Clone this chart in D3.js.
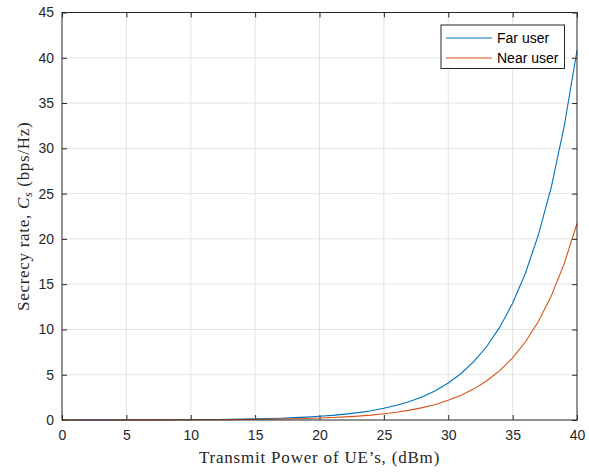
<!DOCTYPE html>
<html>
<head>
<meta charset="utf-8">
<script src="https://cdn.jsdelivr.net/npm/d3@7"></script>
<style>
  body { margin: 0; background: #fff; }
  svg { display: block; }
</style>
</head>
<body>
<script>
'use strict';
// transmit power, dBm
const power = d3.range(0, 41);
// values
const farUser = [0, 0, 0.01, 0.01, 0.01, 0.01, 0.02, 0.02, 0.03, 0.03,
  0.04, 0.05, 0.06, 0.08, 0.10, 0.13, 0.16, 0.20, 0.26, 0.32,
  0.41, 0.51, 0.65, 0.81, 1.02, 1.29, 1.62, 2.04, 2.57, 3.24,
  4.08, 5.14, 6.47, 8.14, 10.25, 12.9, 16.24, 20.45, 25.7, 32.4, 40.8];
const nearUser = [0, 0, 0, 0, 0, 0.01, 0.01, 0.01, 0.01, 0.02,
  0.02, 0.03, 0.03, 0.04, 0.05, 0.07, 0.09, 0.11, 0.14, 0.17,
  0.22, 0.27, 0.34, 0.43, 0.54, 0.69, 0.86, 1.09, 1.37, 1.72,
  2.17, 2.73, 3.44, 4.33, 5.45, 6.86, 8.64, 10.88, 13.69, 17.24, 21.7];
const xTicks = [0, 5, 10, 15, 20, 25, 30, 35, 40];
const yTicks = [0, 5, 10, 15, 20, 25, 30, 35, 40, 45];
const seriesNames = ["Far user", "Near user"];
const seriesColors = ["#0072BD", "#D95319"];

const width = 589, height = 473;
const margin = { left: 62, right: 12, top: 12.5, bottom: 53 };

const svg = d3.select('body').append('svg')
  .attr('width', width)
  .attr('height', height);

const x = d3.scaleLinear().domain([0, 40]).range([margin.left, width - margin.right]);
const y = d3.scaleLinear().domain([0, 45]).range([height - margin.bottom, margin.top]);

// grid
svg.append('g').selectAll('line').data(xTicks.slice(1, -1)).enter().append('line')
  .attr('x1', d => x(d)).attr('x2', d => x(d))
  .attr('y1', y(0)).attr('y2', y(45))
  .attr('stroke', '#e3e3e3').attr('stroke-width', 1);
svg.append('g').selectAll('line').data(yTicks.slice(1, -1)).enter().append('line')
  .attr('y1', d => y(d)).attr('y2', d => y(d))
  .attr('x1', x(0)).attr('x2', x(40))
  .attr('stroke', '#e3e3e3').attr('stroke-width', 1);

// axes, ticks inward on all sides
function styleAxis(g) {
  g.select('.domain').remove();
  g.selectAll('.tick line').attr('stroke', '#262626');
  g.selectAll('.tick text').attr('fill', '#262626')
    .style('font-family', 'Liberation Sans, Arial, sans-serif')
    .style('font-size', '14px');
}
svg.append('g').attr('transform', 'translate(0,' + y(0) + ')')
  .call(d3.axisBottom(x).tickValues(xTicks).tickSizeInner(-5).tickSizeOuter(0).tickPadding(10))
  .call(styleAxis);
svg.append('g').attr('transform', 'translate(0,' + y(45) + ')')
  .call(d3.axisTop(x).tickValues(xTicks).tickSizeInner(-5).tickSizeOuter(0).tickFormat(''))
  .call(styleAxis);
svg.append('g').attr('transform', 'translate(' + x(0) + ',0)')
  .call(d3.axisLeft(y).tickValues(yTicks).tickSizeInner(-5).tickSizeOuter(0).tickPadding(8))
  .call(styleAxis);
svg.append('g').attr('transform', 'translate(' + x(40) + ',0)')
  .call(d3.axisRight(y).tickValues(yTicks).tickSizeInner(-5).tickSizeOuter(0).tickFormat(''))
  .call(styleAxis);

// curves
const line = d3.line()
  .x((d, i) => x(power[i]))
  .y(d => y(d));
[farUser, nearUser].forEach((s, i) => {
  svg.append('path')
    .datum(s)
    .attr('fill', 'none')
    .attr('stroke', seriesColors[i])
    .attr('stroke-width', 1.1)
    .attr('d', line);
});

// box
svg.append('rect')
  .attr('x', x(0)).attr('y', y(45))
  .attr('width', x(40) - x(0)).attr('height', y(0) - y(45))
  .attr('fill', 'none').attr('stroke', '#262626').attr('stroke-width', 1);

// legend
const legend = svg.append('g').attr('transform', 'translate(441,25)');
legend.append('rect')
  .attr('width', 123.5).attr('height', 43.5)
  .attr('fill', '#fff').attr('stroke', '#262626').attr('stroke-width', 1);
seriesNames.forEach((name, i) => {
  const ly = 13 + i * 20;
  legend.append('line')
    .attr('x1', 5).attr('x2', 51).attr('y1', ly).attr('y2', ly)
    .attr('stroke', seriesColors[i]).attr('stroke-width', 1.1);
  legend.append('text')
    .attr('x', 56).attr('y', ly + 5)
    .style('font-family', 'Liberation Sans, Arial, sans-serif')
    .style('font-size', '14px')
    .attr('fill', '#000')
    .text(name);
});

// axis labels
svg.append('text')
  .attr('x', (x(0) + x(40)) / 2).attr('y', 463)
  .attr('text-anchor', 'middle')
  .style('font-family', 'Liberation Serif, Times New Roman, serif')
  .style('font-size', '17px')
  .style('letter-spacing', '0.8px')
  .attr('fill', '#262626')
  .text('Transmit Power of UE\u2019s, (dBm)');

const yl = svg.append('text')
  .attr('transform', 'translate(29,' + ((y(0) + y(45)) / 2) + ') rotate(-90)')
  .attr('text-anchor', 'middle')
  .style('font-family', 'Liberation Serif, Times New Roman, serif')
  .style('font-size', '17px')
  .style('letter-spacing', '0.7px')
  .attr('fill', '#262626');
yl.append('tspan').text('Secrecy rate, ');
yl.append('tspan').style('font-style', 'italic').text('C');
yl.append('tspan').style('font-style', 'italic').style('font-size', '12px').attr('dy', 3).text('s');
yl.append('tspan').attr('dy', -3).text(' (bps/Hz)');
</script>
</body>
</html>
